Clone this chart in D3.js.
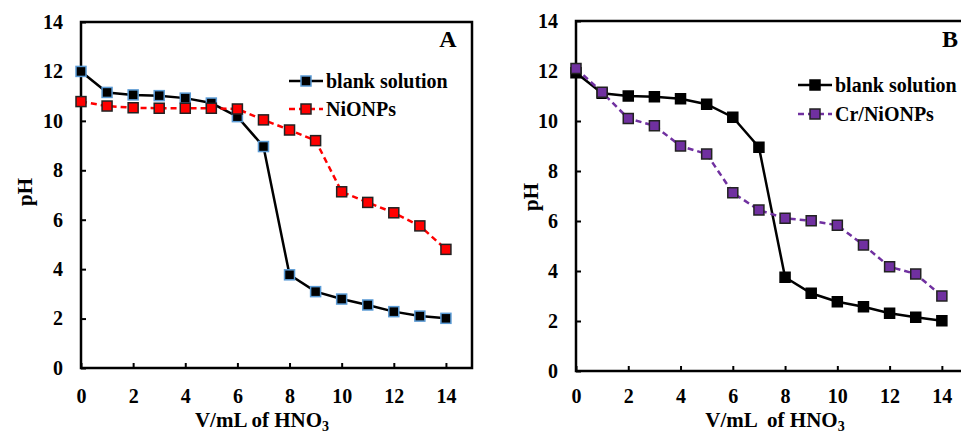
<!DOCTYPE html>
<html>
<head>
<meta charset="utf-8">
<script src="https://cdn.jsdelivr.net/npm/d3@7"></script>
<style>
  body { margin: 0; background: #fff; }
  svg text { font-family: "Liberation Serif", "Times New Roman", serif; font-weight: bold; fill: #000; }
</style>
</head>
<body>
<div class="container"></div>
<script>
// Data
const volume = [0, 1, 2, 3, 4, 5, 6, 7, 8, 9, 10, 11, 12, 13, 14];
const xTicks = [0, 2, 4, 6, 8, 10, 12, 14];
const yTicks = [0, 2, 4, 6, 8, 10, 12, 14];

const blankA = [12.0, 11.15, 11.05, 11.02, 10.92, 10.72, 10.17, 8.96, 3.77, 3.09, 2.79, 2.55, 2.28, 2.1, 2.01];
const niONPs = [10.78, 10.6, 10.53, 10.51, 10.51, 10.51, 10.48, 10.04, 9.63, 9.2, 7.13, 6.7, 6.28, 5.75, 4.8];

const blankB = [11.93, 11.11, 11.0, 10.97, 10.89, 10.67, 10.15, 8.95, 3.75, 3.11, 2.77, 2.57, 2.31, 2.15, 2.01];
const crNiONPs = [12.1, 11.15, 10.1, 9.81, 9.0, 8.68, 7.13, 6.44, 6.11, 6.01, 5.83, 5.04, 4.17, 3.88, 3.0];

const width = 961;
const height = 433;

const svg = d3.select('.container')
  .append('svg')
  .attr('width', width)
  .attr('height', height);

// draws one panel; opts holds the frame box and the series styles
function drawPanel(opts) {
  const x = d3.scaleLinear().domain([0, 15]).range([opts.left, opts.right]);
  const y = d3.scaleLinear().domain([0, 14]).range([opts.bottom, opts.top]);
  const g = svg.append('g');

  // x axis, ticks pointing inward
  const xAxis = g.append('g')
    .attr('transform', `translate(0,${opts.bottom})`)
    .call(d3.axisBottom(x).tickValues(xTicks).tickSizeInner(-5).tickSizeOuter(0).tickPadding(opts.xPad));
  const yAxis = g.append('g')
    .attr('transform', `translate(${opts.left},0)`)
    .call(d3.axisLeft(y).tickValues(yTicks).tickSizeInner(-5).tickSizeOuter(0).tickPadding(18));

  [xAxis, yAxis].forEach(ax => {
    ax.select('.domain').remove();
    ax.selectAll('line').attr('stroke', '#000').attr('stroke-width', 2);
    ax.selectAll('text').style('font-size', '20px').attr('fill', '#000');
  });

  // frame
  g.append('rect')
    .attr('x', opts.left)
    .attr('y', opts.top)
    .attr('width', opts.right - opts.left)
    .attr('height', opts.bottom - opts.top)
    .attr('fill', 'none')
    .attr('stroke', '#000')
    .attr('stroke-width', 2.5);

  const line = d3.line()
    .x((d, i) => x(volume[i]))
    .y(d => y(d));

  opts.series.forEach(s => {
    g.append('path')
      .datum(s.values)
      .attr('d', line)
      .attr('fill', 'none')
      .attr('stroke', s.stroke)
      .attr('stroke-width', 2.5)
      .attr('stroke-dasharray', s.dash || null);

    g.selectAll(null)
      .data(s.values)
      .enter()
      .append('rect')
      .attr('x', (d, i) => x(volume[i]) - 5)
      .attr('y', d => y(d) - 5)
      .attr('width', 10)
      .attr('height', 10)
      .attr('fill', s.fill)
      .attr('stroke', s.edge)
      .attr('stroke-width', 1.5);
  });

  // legend
  opts.series.forEach((s, k) => {
    const ly = opts.legendY[k];
    g.append('line')
      .attr('x1', opts.legendX)
      .attr('x2', opts.legendX + 34)
      .attr('y1', ly)
      .attr('y2', ly)
      .attr('stroke', s.stroke)
      .attr('stroke-width', 2.5)
      .attr('stroke-dasharray', s.dash || null);
    g.append('rect')
      .attr('x', opts.legendX + 12)
      .attr('y', ly - 5)
      .attr('width', 10)
      .attr('height', 10)
      .attr('fill', s.fill)
      .attr('stroke', s.edge)
      .attr('stroke-width', 1.5);
    g.append('text')
      .attr('x', opts.legendX + 37)
      .attr('y', ly)
      .attr('dy', '0.35em')
      .style('font-size', '20px')
      .text(s.name);
  });

  // panel letter
  g.append('text')
    .attr('x', opts.letterX)
    .attr('y', 47)
    .attr('text-anchor', 'middle')
    .style('font-size', '24px')
    .text(opts.letter);

  // y axis title
  g.append('text')
    .attr('transform', `translate(${opts.yTitleX},${opts.yTitleY}) rotate(-90)`)
    .attr('text-anchor', 'middle')
    .attr('dy', '0.35em')
    .style('font-size', '21px')
    .text('pH');

  // x axis title with subscript
  const t = g.append('text')
    .attr('x', opts.xTitleX)
    .attr('y', 427)
    .attr('text-anchor', 'middle')
    .style('font-size', '21px')
    .attr('xml:space', 'preserve')
    .text(opts.xTitle);
  t.append('tspan')
    .attr('dy', 4)
    .style('font-size', '14px')
    .text('3');
}

drawPanel({
  left: 81, right: 472, top: 22, bottom: 368, xPad: 21,
  letter: 'A', letterX: 448,
  legendX: 289, legendY: [81, 109],
  yTitleX: 25, yTitleY: 192,
  xTitleX: 262, xTitle: 'V/mL of HNO',
  series: [
    { name: 'blank solution', values: blankA, stroke: '#000', fill: '#000', edge: '#5b9bd5' },
    { name: 'NiONPs', values: niONPs, stroke: '#ff0000', fill: '#ff0000', edge: '#222', dash: '6,4' }
  ]
});

drawPanel({
  left: 576, right: 968, top: 21, bottom: 371, xPad: 18,
  letter: 'B', letterX: 950,
  legendX: 798, legendY: [85, 114],
  yTitleX: 531, yTitleY: 197,
  xTitleX: 775, xTitle: 'V/mL  of HNO',
  series: [
    { name: 'blank solution', values: blankB, stroke: '#000', fill: '#000', edge: '#000' },
    { name: 'Cr/NiONPs', values: crNiONPs, stroke: '#7030a0', fill: '#7030a0', edge: '#222', dash: '6,4' }
  ]
});
</script>
</body>
</html>
